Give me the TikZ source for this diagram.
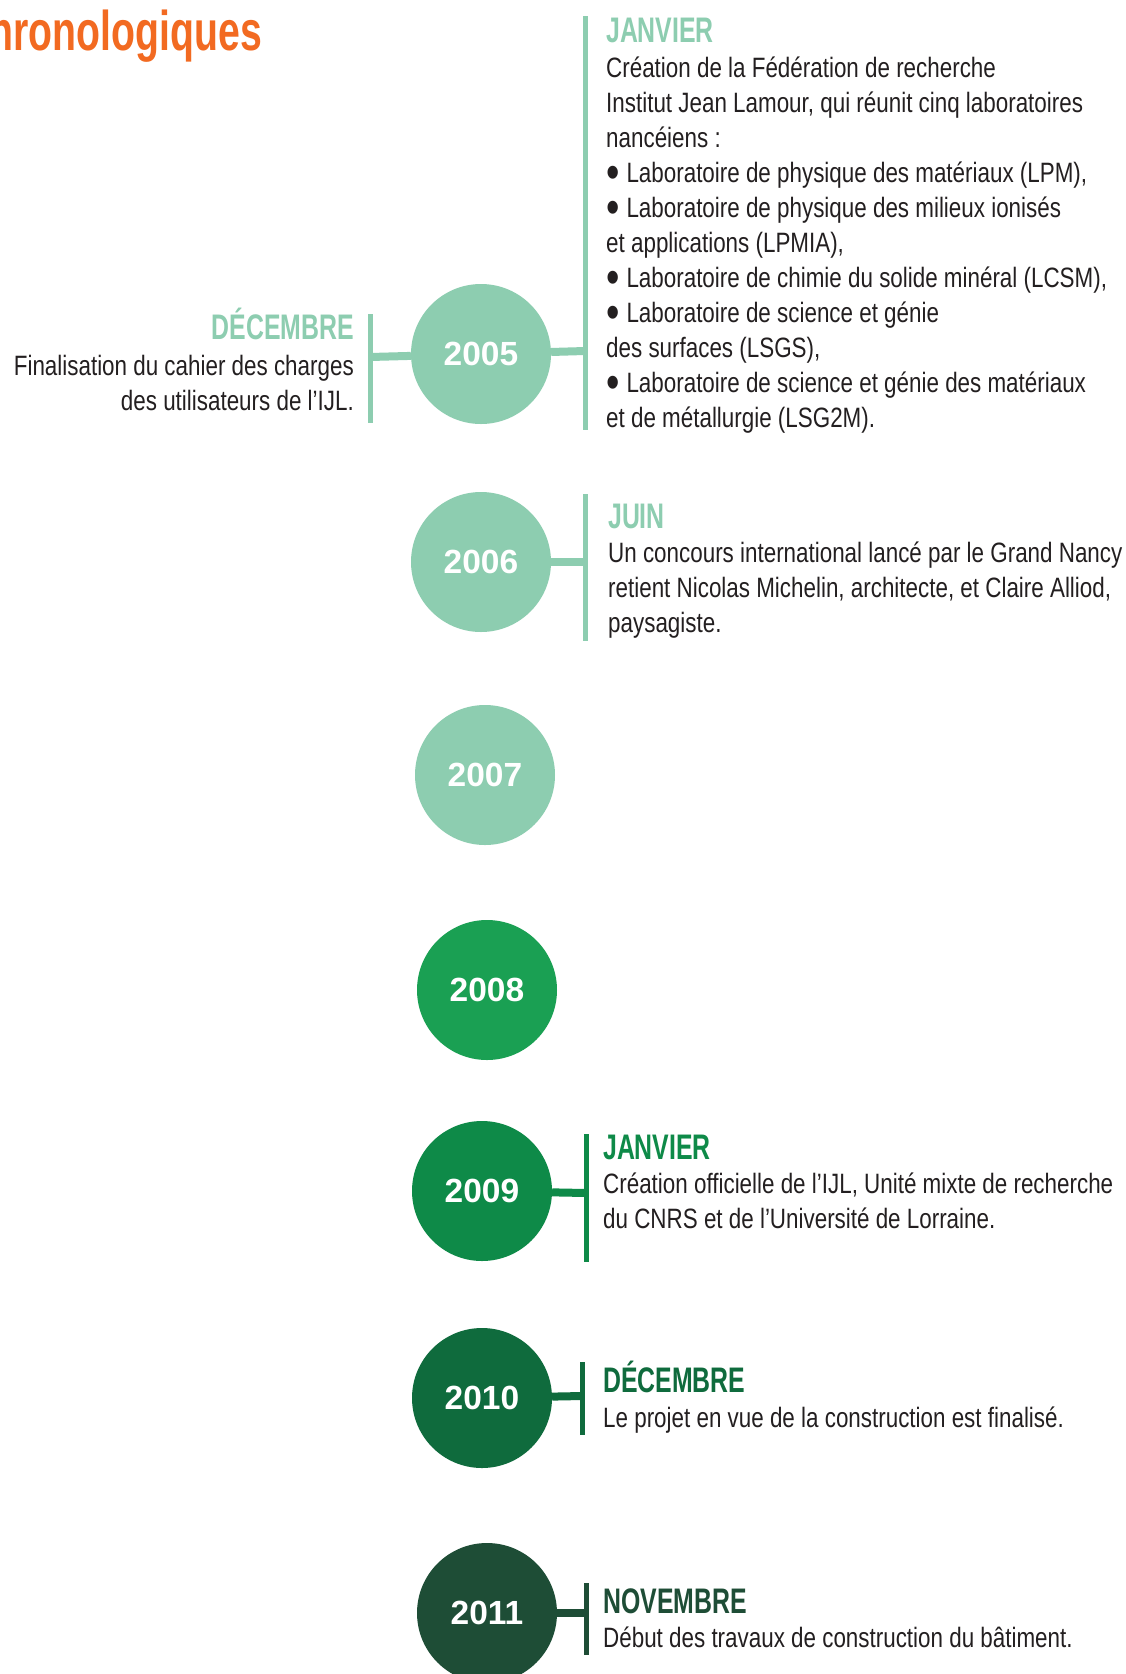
\documentclass[tikz,border=0pt]{standalone}
\usepackage{fontspec}
\usepackage{graphicx}
\setmainfont{Liberation Sans}
\newfontfamily\headfont{Liberation Sans}[FakeStretch=0.7]
\newfontfamily\bodyfont{Liberation Sans}[FakeStretch=0.8]
\definecolor{mint}{HTML}{8DCDB0}
\definecolor{gA}{HTML}{1AA053}
\definecolor{gB}{HTML}{0E8A48}
\definecolor{gC}{HTML}{0F6B3D}
\definecolor{gD}{HTML}{1E4D36}
\definecolor{orangeT}{HTML}{F26A21}
\definecolor{bodygray}{HTML}{231F20}
\newcommand\bul{\smash{\raisebox{-6.5pt}{\scalebox{1.7}{•}}}\hspace{7pt}}
\newcommand\mylines[5]{%
  \foreach \ln [count=\k from 0] in {#5} {
    \node[bodytxt, anchor=#4] (#1-\k) at (#2, {#3+35*\k}) {\ln};
  }}
\begin{document}
\begin{tikzpicture}[x=1pt,y=-1pt,
  yearc/.style={circle, minimum size=140pt, inner sep=0pt, text=white,
    font=\bfseries\fontsize{33.5}{33.5}\selectfont},
  vbar/.style={line width=5pt},
  conn/.style={line width=8pt},
  headtxt/.style={inner sep=0pt, font=\headfont\bfseries\fontsize{35.5}{35.5}\selectfont},
  bodytxt/.style={inner sep=0pt, text=bodygray, font=\bodyfont\fontsize{28}{35}\selectfont}]
\path[use as bounding box, fill=white] (0,0) rectangle (1125,1674);

% title
\node[inner sep=0pt, anchor=base east, text=orangeT,
  font=\headfont\bfseries\fontsize{56}{56}\selectfont] (title) at (262,50) {hronologiques};

% coordinates for bars
\coordinate (l5t) at (370,314); \coordinate (l5b) at (370,423); \coordinate (l5m) at (370,357);
\coordinate (r5t) at (585,16);  \coordinate (r5b) at (585,430); \coordinate (r5m) at (585,351);
\coordinate (r6t) at (585,494); \coordinate (r6b) at (585,641); \coordinate (r6m) at (585,562);
\coordinate (r9t) at (586,1134); \coordinate (r9b) at (586,1262); \coordinate (r9m) at (586,1193);
\coordinate (r10t) at (582,1362); \coordinate (r10b) at (582,1435); \coordinate (r10m) at (582,1396);
\coordinate (r11t) at (586,1583); \coordinate (r11b) at (586,1655); \coordinate (r11m) at (586,1613);

% bars
\draw[vbar, mint] (l5t) -- (l5b);
\draw[vbar, mint] (r5t) -- (r5b);
\draw[vbar, mint] (r6t) -- (r6b);
\draw[vbar, gB] (r9t) -- (r9b);
\draw[vbar, gC] (r10t) -- (r10b);
\draw[vbar, gD] (r11t) -- (r11b);

% circles
\node[yearc, fill=mint] (y2005) at (481,354) {2005};
\node[yearc, fill=mint] (y2006) at (481,562) {2006};
\node[yearc, fill=mint] (y2007) at (485,775) {2007};
\node[yearc, fill=gA] (y2008) at (487,990) {2008};
\node[yearc, fill=gB] (y2009) at (482,1191) {2009};
\node[yearc, fill=gC] (y2010) at (482,1398) {2010};
\node[yearc, fill=gD] (y2011) at (487,1613) {2011};

% connectors
\draw[conn, mint] (y2005) -- (l5m);
\draw[conn, mint] (y2005) -- (r5m);
\draw[conn, mint] (y2006) -- (r6m);
\draw[conn, gB] (y2009) -- (r9m);
\draw[conn, gC] (y2010) -- (r10m);
\draw[conn, gD] (y2011) -- (r11m);

% 2005 left
\node[headtxt, text=mint, anchor=base east] (h5l) at (354,339) {DÉCEMBRE};
\mylines{t5l}{354}{375}{base east}{{Finalisation du cahier des charges},{des utilisateurs de l’IJL.}}

% 2005 right
\node[headtxt, text=mint, anchor=base west] (h5r) at (606,42) {JANVIER};
\mylines{t5r}{606}{77}{base west}{{Création de la Fédération de recherche},
{Institut Jean Lamour, qui réunit cinq laboratoires},
{nancéiens :},
{\bul Laboratoire de physique des matériaux (LPM),},
{\bul Laboratoire de physique des milieux ionisés},
{et applications (LPMIA),},
{\bul Laboratoire de chimie du solide minéral (LCSM),},
{\bul Laboratoire de science et génie},
{des surfaces (LSGS),},
{\bul Laboratoire de science et génie des matériaux},
{et de métallurgie (LSG2M).}}

% 2006
\node[headtxt, text=mint, anchor=base west] (h6) at (608,528) {JUIN};
\mylines{t6}{608}{562}{base west}{{Un concours international lancé par le Grand Nancy},
{retient Nicolas Michelin, architecte, et Claire Alliod,},
{paysagiste.}}

% 2009
\node[headtxt, text=gB, anchor=base west] (h9) at (603,1159) {JANVIER};
\mylines{t9}{603}{1193}{base west}{{Création officielle de l’IJL, Unité mixte de recherche},
{du CNRS et de l’Université de Lorraine.}}

% 2010
\node[headtxt, text=gC, anchor=base west] (h10) at (603,1392) {DÉCEMBRE};
\mylines{t10}{603}{1427}{base west}{{Le projet en vue de la construction est finalisé.}}

% 2011
\node[headtxt, text=gD, anchor=base west] (h11) at (603,1613) {NOVEMBRE};
\mylines{t11}{603}{1647}{base west}{{Début des travaux de construction du bâtiment.}}
\end{tikzpicture}
\end{document}
